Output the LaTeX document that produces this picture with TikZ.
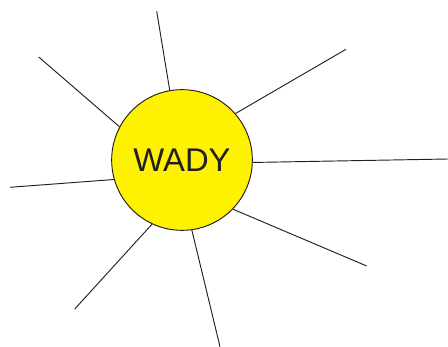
\documentclass[tikz,border=0pt]{standalone}
\usepackage{fontspec}
\setmainfont{Liberation Sans}
\usetikzlibrary{positioning}
\definecolor{sunyellow}{HTML}{FFF200}
\definecolor{cline}{HTML}{231F20}
\tikzset{
  every picture/.style={line width=0.8pt},
  sun/.style={circle, draw=cline, fill=sunyellow, minimum size=4.22cm, inner sep=0pt, font=\fontsize{28}{30}\selectfont, text=cline},
  ray/.style={draw=cline, line width=0.8pt},
}
\begin{document}
\begin{tikzpicture}[x=0.03cm, y=-0.03cm]
  \useasboundingbox (0,0) rectangle (448,347);
  \node[sun] (wady) at (182,160) {WADY};
  % free ends of the rays
  \coordinate (r1) at (156.7,11.3);
  \coordinate (r2) at (346,49.3);
  \coordinate (r3) at (448,159);
  \coordinate (r4) at (366.7,266);
  \coordinate (r5) at (220,346.7);
  \coordinate (r6) at (74.7,309);
  \coordinate (r7) at (10,187.3);
  \coordinate (r8) at (38.7,57);
  \foreach \i/\a in {1/100, 2/41.2, 3/-2.6, 4/-44.3, 5/-82.4, 6/245.2, 7/196, 8/152.4} {
    \draw[ray] (wady.\a) -- (r\i);
  }
\end{tikzpicture}
\end{document}
